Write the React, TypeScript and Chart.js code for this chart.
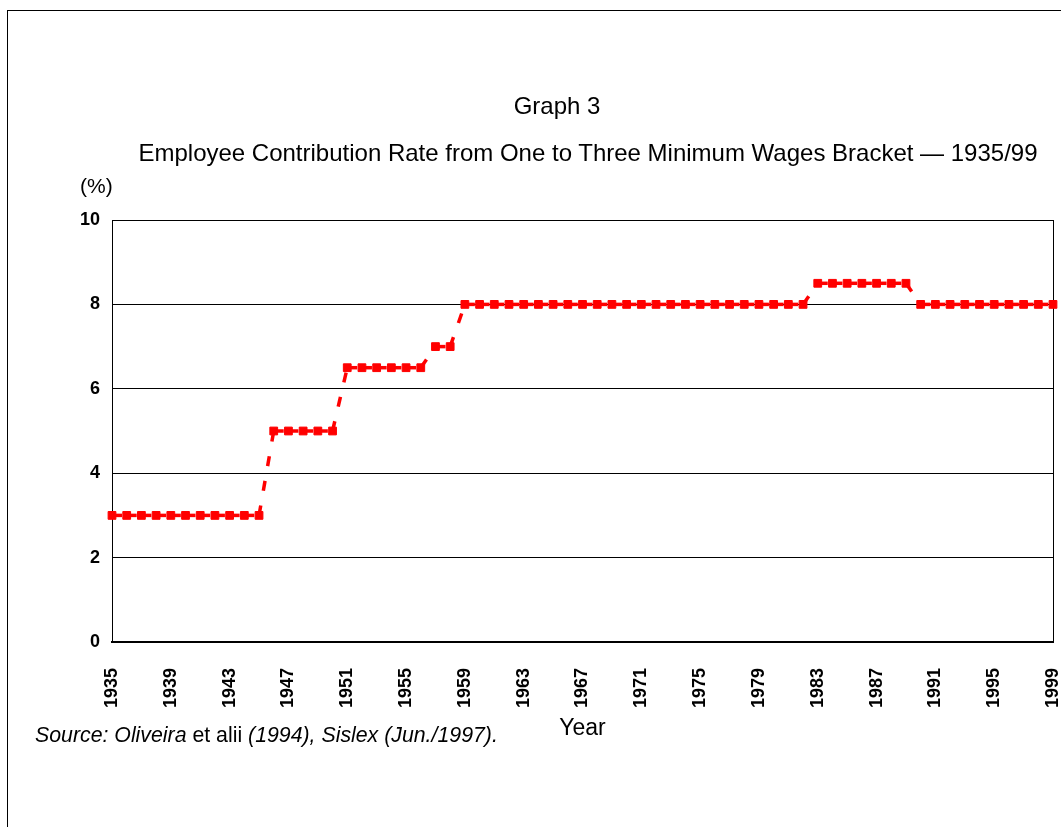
import React, { useEffect, useRef } from 'react';
import { Chart, registerables } from 'chart.js';

Chart.register(...registerables);

const years = [
  '1935', '1936', '1937', '1938', '1939', '1940', '1941', '1942', '1943', '1944',
  '1945', '1946', '1947', '1948', '1949', '1950', '1951', '1952', '1953', '1954',
  '1955', '1956', '1957', '1958', '1959', '1960', '1961', '1962', '1963', '1964',
  '1965', '1966', '1967', '1968', '1969', '1970', '1971', '1972', '1973', '1974',
  '1975', '1976', '1977', '1978', '1979', '1980', '1981', '1982', '1983', '1984',
  '1985', '1986', '1987', '1988', '1989', '1990', '1991', '1992', '1993', '1994',
  '1995', '1996', '1997', '1998', '1999',
];

const contributionRate = [
  3, 3, 3, 3, 3, 3, 3, 3, 3, 3,
  3, 5, 5, 5, 5, 5, 6.5, 6.5, 6.5, 6.5,
  6.5, 6.5, 7, 7, 8, 8, 8, 8, 8, 8,
  8, 8, 8, 8, 8, 8, 8, 8, 8, 8,
  8, 8, 8, 8, 8, 8, 8, 8, 8.5, 8.5,
  8.5, 8.5, 8.5, 8.5, 8.5, 8, 8, 8, 8, 8,
  8, 8, 8, 8, 8,
];

const tickYears = [
  '1935', '1939', '1943', '1947', '1951', '1955', '1959', '1963', '1967',
  '1971', '1975', '1979', '1983', '1987', '1991', '1995', '1999',
];

const FONT = "'Liberation Sans', Arial, Helvetica, sans-serif";

const framePlugin = {
  id: 'frameRight',
  beforeDatasetsDraw(chart: any) {
    const { ctx, chartArea } = chart;
    const x = Math.round(chartArea.right) + 0.5;
    ctx.save();
    ctx.strokeStyle = '#000';
    ctx.lineWidth = 1;
    ctx.beginPath();
    ctx.moveTo(x, chartArea.top);
    ctx.lineTo(x, chartArea.bottom);
    ctx.stroke();
    ctx.restore();
  },
};

export default function App() {
  const canvasRef = useRef<HTMLCanvasElement | null>(null);

  useEffect(() => {
    if (!canvasRef.current) return;
    Chart.defaults.font.family = FONT;
    Chart.defaults.color = '#000';
    const chart = new Chart(canvasRef.current, {
      type: 'line',
      data: {
        labels: years,
        datasets: [
          {
            data: contributionRate,
            borderColor: '#ff0000',
            backgroundColor: '#ff0000',
            borderWidth: 3.5,
            borderDash: [10, 15],
            borderCapStyle: 'butt',
            pointStyle: 'rect',
            pointRadius: 5.5,
            pointBorderWidth: 1,
            pointBackgroundColor: '#ff0000',
            pointBorderColor: '#ff0000',
            tension: 0,
            fill: false,
            clip: false,
            segment: {
              borderDashOffset: (ctx: any) => (ctx.p0DataIndex % 2) * 0.0001,
            },
          } as any,
        ],
      },
      options: {
        responsive: false,
        animation: false,
        devicePixelRatio: 1,
        events: [],
        layout: { padding: { left: 0, right: 8, top: 220, bottom: 85 } },
        plugins: {
          legend: { display: false },
          tooltip: { enabled: false },
          title: { display: false },
        },
        scales: {
          x: {
            type: 'category',
            offset: false,
            grid: { display: false, drawTicks: false },
            border: { display: true, color: '#000', width: 2 },
            ticks: {
              autoSkip: false,
              maxRotation: 90,
              minRotation: 90,
              padding: 26,
              color: '#000',
              font: { family: FONT, size: 18, weight: 'bold' },
              callback: (_v: any, i: number) => (tickYears.includes(years[i]) ? years[i] : ''),
            },
            title: {
              display: true,
              text: 'Year',
              color: '#000',
              font: { family: FONT, size: 23 },
              padding: 0,
            },
            afterFit: (s: any) => {
              s.height = 100;
              s.paddingLeft = 0;
              s.paddingRight = 0;
            },
          },
          y: {
            min: 0,
            max: 10,
            ticks: {
              stepSize: 2,
              padding: 12,
              color: '#000',
              font: { family: FONT, size: 18, weight: 'bold' },
            },
            grid: { color: '#000', lineWidth: 1, drawTicks: false },
            border: { display: true, color: '#000', width: 1 },
            afterFit: (s: any) => {
              s.width = 112;
            },
          },
        },
      } as any,
      plugins: [framePlugin],
    });
    return () => chart.destroy();
  }, []);

  return (
    <div
      style={{
        position: 'absolute',
        left: 0,
        top: 0,
        width: 1061,
        height: 827,
        overflow: 'hidden',
        background: '#fff',
        fontFamily: FONT,
        color: '#000',
      }}
    >
      <div
        style={{
          position: 'absolute',
          left: 7,
          top: 10,
          width: 1200,
          height: 1000,
          borderLeft: '1px solid #000',
          borderTop: '1px solid #000',
        }}
      />
      <canvas
        ref={canvasRef}
        width={1061}
        height={827}
        style={{ position: 'absolute', left: 0, top: 0, display: 'block' }}
      />
      <div
        style={{
          position: 'absolute',
          left: 357,
          top: 94,
          width: 400,
          textAlign: 'center',
          fontSize: 24,
          lineHeight: '24px',
          whiteSpace: 'nowrap',
        }}
      >
        Graph 3
      </div>
      <div
        style={{
          position: 'absolute',
          left: 88,
          top: 141,
          width: 1000,
          textAlign: 'center',
          fontSize: 24,
          lineHeight: '24px',
          whiteSpace: 'nowrap',
        }}
      >
        Employee Contribution Rate from One to Three Minimum Wages Bracket — 1935/99
      </div>
      <div
        style={{
          position: 'absolute',
          left: 80,
          top: 175,
          fontSize: 21,
          lineHeight: '21px',
          whiteSpace: 'nowrap',
        }}
      >
        (%)
      </div>
      <div
        style={{
          position: 'absolute',
          left: 35,
          top: 725,
          fontSize: 21.3,
          lineHeight: '21px',
          fontStyle: 'italic',
          whiteSpace: 'nowrap',
        }}
      >
        Source: Oliveira <span style={{ fontStyle: 'normal' }}>et alii</span> (1994), Sislex (Jun./1997).
      </div>
    </div>
  );
}
